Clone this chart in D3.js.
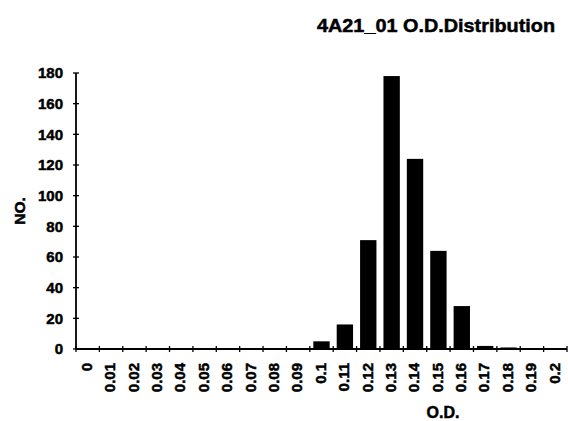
<!DOCTYPE html>
<html>
<head>
<meta charset="utf-8">
<script src="https://cdn.jsdelivr.net/npm/d3@7"></script>
<style>
  body { margin: 0; background: #fff; }
  svg text { font-family: "Liberation Sans", Arial, sans-serif; font-weight: bold; fill: #000;
             stroke: #000; stroke-width: 0.5px; }
</style>
</head>
<body>
<svg width="568" height="421"></svg>
<script>
var categories = ["0","0.01","0.02","0.03","0.04","0.05","0.06","0.07","0.08","0.09","0.1",
                  "0.11","0.12","0.13","0.14","0.15","0.16","0.17","0.18","0.19","0.2"];
var counts = [0,0,0,0,0,0,0,0,0,0,5,16,71,178,124,64,28,2,1,0,0];
var yTicks = [0,20,40,60,80,100,120,140,160,180];

var svg = d3.select("svg");
var plotLeft = 76, plotRight = 567, plotTop = 73, plotBottom = 349;

var x = d3.scaleBand().domain(categories).range([plotLeft, plotRight]).paddingInner(0.3).paddingOuter(0.15);
var y = d3.scaleLinear().domain([0, 180]).range([plotBottom, plotTop]);

// bars
svg.append("g").selectAll("rect")
    .data(categories)
    .enter().append("rect")
    .attr("x", function(d) { return x(d); })
    .attr("y", function(d, i) { return y(counts[i]); })
    .attr("width", x.bandwidth())
    .attr("height", function(d, i) { return plotBottom - y(counts[i]); })
    .attr("fill", "#000");

// y axis
var ya = svg.append("g");
ya.append("line").attr("x1", plotLeft).attr("x2", plotLeft).attr("y1", plotTop).attr("y2", plotBottom)
    .attr("stroke", "#000").attr("stroke-width", 1.8);
ya.selectAll("line.t").data(yTicks).enter().append("line")
    .attr("x1", plotLeft - 3).attr("x2", plotLeft + 3)
    .attr("y1", function(d) { return y(d); }).attr("y2", function(d) { return y(d); })
    .attr("stroke", "#000").attr("stroke-width", 1.3);
ya.selectAll("text").data(yTicks).enter().append("text")
    .attr("x", plotLeft - 13).attr("y", function(d) { return y(d); })
    .attr("dy", "0.35em").attr("text-anchor", "end")
    .style("font-size", "15px")
    .text(function(d) { return d; });

// x axis
var n = categories.length;
var xa = svg.append("g");
xa.append("line").attr("x1", plotLeft).attr("x2", plotRight).attr("y1", plotBottom).attr("y2", plotBottom)
    .attr("stroke", "#000").attr("stroke-width", 1.8);
xa.selectAll("line.t").data(d3.range(n + 1)).enter().append("line")
    .attr("x1", function(i) { return plotLeft + i * (plotRight - plotLeft) / n; })
    .attr("x2", function(i) { return plotLeft + i * (plotRight - plotLeft) / n; })
    .attr("y1", plotBottom - 3).attr("y2", plotBottom + 3)
    .attr("stroke", "#000").attr("stroke-width", 1.3);
xa.selectAll("text").data(categories).enter().append("text")
    .attr("transform", function(d) {
        return "translate(" + (x(d) + x.bandwidth() / 2 - 1) + "," + (plotBottom + 14) + ") rotate(-90)";
    })
    .attr("dy", "0.35em").attr("text-anchor", "end")
    .style("font-size", "15px")
    .text(function(d) { return d; });

// labels
svg.append("text").attr("x", 443).attr("y", 418).attr("text-anchor", "middle")
    .style("font-size", "16px").text("O.D.");
svg.append("text").attr("transform", "translate(25,211) rotate(-90)").attr("text-anchor", "middle")
    .style("font-size", "15.5px").text("NO.");
svg.append("text").attr("x", 317).attr("y", 32).attr("text-anchor", "start")
    .attr("textLength", 238).attr("lengthAdjust", "spacingAndGlyphs")
    .style("font-size", "19px").text("4A21_01 O.D.Distribution");
</script>
</body>
</html>
